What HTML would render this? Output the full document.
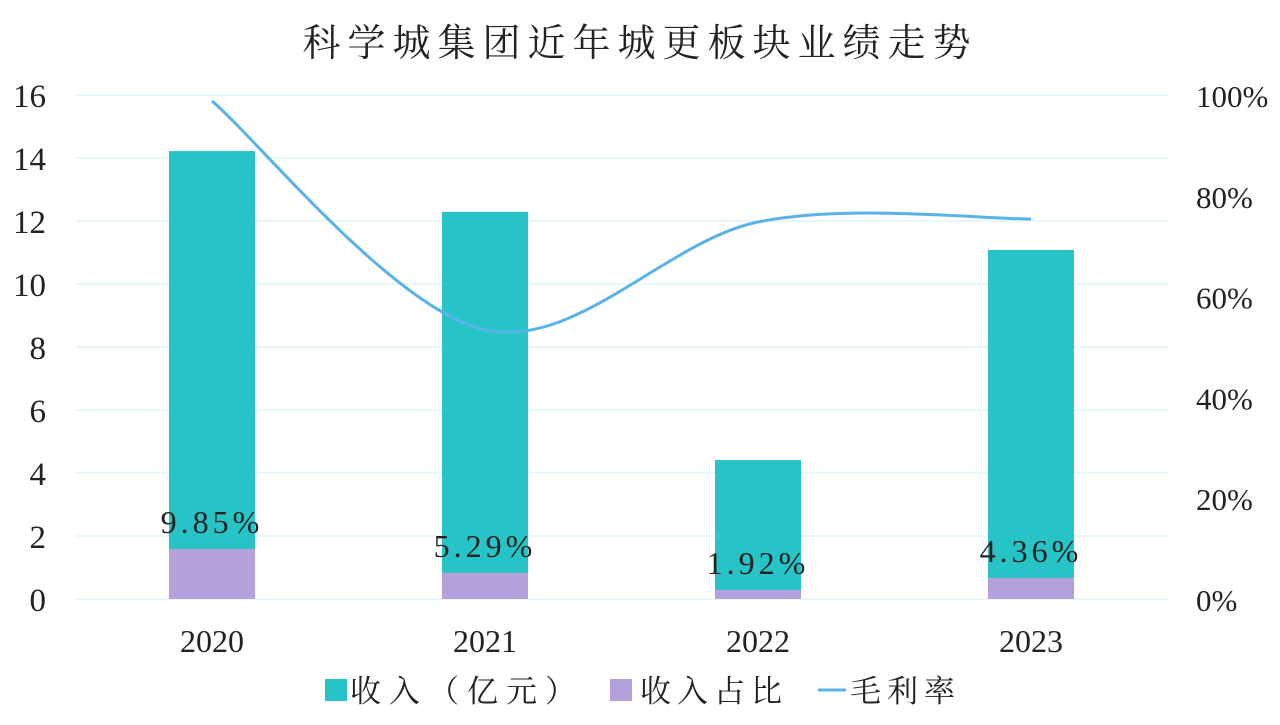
<!DOCTYPE html>
<html><head><meta charset="utf-8"><style>
body{margin:0;background:#fff;}
svg text{font-family:"Liberation Serif","Noto Serif CJK SC",serif;fill:#222;}
</style></head><body>
<svg id="chart" width="1280" height="720" viewBox="0 0 1280 720" xmlns="http://www.w3.org/2000/svg">
<text x="640" y="56" text-anchor="middle" font-size="38" letter-spacing="7">科学城集团近年城更板块业绩走势</text>
<g id="grid"></g><g id="bars"></g><g id="line"></g><g id="labels"></g>
<g>
<rect x="325" y="679" width="22" height="22" fill="#26C4C6"/>
<text x="350" y="702" font-size="31" letter-spacing="8">收入（亿元）</text>
<rect x="610" y="679" width="22" height="22" fill="#B4A1DC"/>
<text x="640" y="702" font-size="31" letter-spacing="6">收入占比</text>
<line x1="818" y1="690" x2="846" y2="690" stroke="#5AB3E8" stroke-width="3"/>
<text x="850" y="702" font-size="31" letter-spacing="6">毛利率</text>
</g>
</svg>
<script>
const categories=["2020","2021","2022","2023"];
const revenue=[14.22,12.29,4.41,11.08];
const share=[1.59,0.83,0.29,0.67];
const shareLabels=["9.85%","5.29%","1.92%","4.36%"];
const margin=[98.8,53.4,74.8,75.4];
const leftTicks=[0,2,4,6,8,10,12,14,16];
const rightTicks=["0%","20%","40%","60%","80%","100%"];
const NS="http://www.w3.org/2000/svg";
const x0=75.5,x1=1167.5,yB=599,yT=95;
const band=(x1-x0)/categories.length;
const xC=i=>x0+band*(i+0.5);
const yL=v=>yB-(v/16)*(yB-yT);
const yR=v=>yB-(v/100)*(yB-yT);
function mk(tag,attrs,parent,txt){const e=document.createElementNS(NS,tag);for(const k in attrs)e.setAttribute(k,attrs[k]);if(txt!==undefined)e.textContent=txt;document.getElementById(parent).appendChild(e);return e;}
leftTicks.forEach(t=>{
 const l=mk('line',{x1:x0,x2:x1,y1:yL(t),y2:yL(t),stroke:'#D0F1F5','stroke-width':1},'grid');
 
 
 const tx=mk('text',{x:46,y:yL(t)+12,'text-anchor':'end','font-size':33},'labels',String(t));
 
 
});
rightTicks.forEach((t,i)=>{
 const tx=mk('text',{x:1196,y:yR(i*20)+12,'font-size':31},'labels',t);
 
 
});
const bw=86;
categories.forEach((c,i)=>{
 const cx=xC(i);
 const b=mk('rect',{x:cx-bw/2,y:yL(revenue[i]),width:bw,height:yB-yL(revenue[i]),fill:'#26C4C6'},'bars');
 
 
 const s=mk('rect',{x:cx-bw/2,y:yL(share[i]),width:bw,height:yB-yL(share[i]),fill:'#B4A1DC'},'bars');
 
 
 const lb=mk('text',{x:cx,y:yL(share[i])-16,'text-anchor':'middle','font-size':32,'letter-spacing':4},'labels',shareLabels[i]);
 
 
 const xl=mk('text',{x:cx,y:652,'text-anchor':'middle','font-size':32},'labels',c);
 
 
});
const pts=margin.map((m,i)=>[xC(i),yR(m)]);
let d='M'+pts[0][0]+','+pts[0][1];
for(let i=0;i<pts.length-1;i++){
 const p0=pts[i-1]||pts[i],p1=pts[i],p2=pts[i+1],p3=pts[i+2]||p2;
 const k=1/6;
 d+=` C${p1[0]+(p2[0]-p0[0])*k},${p1[1]+(p2[1]-p0[1])*k} ${p2[0]-(p3[0]-p1[0])*k},${p2[1]-(p3[1]-p1[1])*k} ${p2[0]},${p2[1]}`;
}
const ln=mk('path',{d:d,fill:'none',stroke:'#5AB3E8','stroke-width':3},'line');


</script>
</body></html>
